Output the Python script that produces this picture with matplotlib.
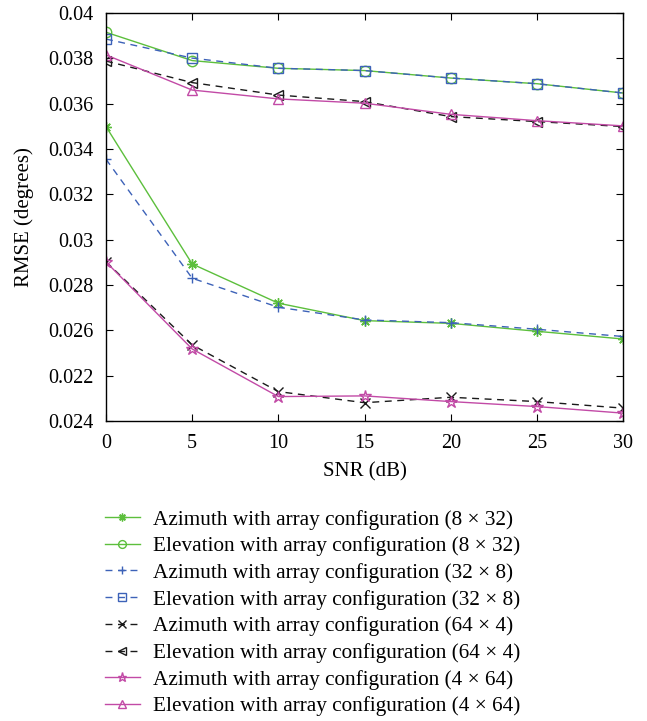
import matplotlib
matplotlib.use("Agg")
import matplotlib.pyplot as plt

# SNR grid and RMSE (degrees)
snr = [0, 5, 10, 15, 20, 25, 30]

az_8x32 = [0.03499, 0.02893, 0.02720, 0.02643, 0.02631, 0.02596, 0.02562]
el_8x32 = [0.03915, 0.03790, 0.03756, 0.03746, 0.03713, 0.03688, 0.03647]
az_32x8 = [0.03355, 0.02830, 0.02702, 0.02646, 0.02634, 0.02605, 0.02573]
el_32x8 = [0.03885, 0.03801, 0.03756, 0.03746, 0.03713, 0.03688, 0.03647]
az_64x4 = [0.02903, 0.02536, 0.02330, 0.02281, 0.02305, 0.02286, 0.02257]
el_64x4 = [0.03788, 0.03693, 0.03638, 0.03609, 0.03543, 0.03521, 0.03499]
az_4x64 = [0.02902, 0.02518, 0.02308, 0.02311, 0.02286, 0.02264, 0.02235]
el_4x64 = [0.03815, 0.03660, 0.03621, 0.03602, 0.03553, 0.03525, 0.03502]

# tick labels exactly as printed in the reference (second label reads 0.022)
ytick_vals = [0.022, 0.024, 0.026, 0.028, 0.030, 0.032, 0.034, 0.036, 0.038, 0.040]
ytick_labels = ["0.024", "0.022", "0.026", "0.028", "0.03", "0.032",
                "0.034", "0.036", "0.038", "0.04"]

labels = ["Azimuth with array configuration (8 \u00d7 32)",
          "Elevation with array configuration (8 \u00d7 32)",
          "Azimuth with array configuration (32 \u00d7 8)",
          "Elevation with array configuration (32 \u00d7 8)",
          "Azimuth with array configuration (64 \u00d7 4)",
          "Elevation with array configuration (64 \u00d7 4)",
          "Azimuth with array configuration (4 \u00d7 64)",
          "Elevation with array configuration (4 \u00d7 64)"]

GREEN, BLUE, BLACK, MAG = "#5cbf3c", "#3d62b8", "#1a1a1a", "#c24aa6"
DASH = (0, (5, 4))
ASTER = (8, 2, 0)   # eight-armed asterisk

styles = [
    (az_8x32, GREEN, "-", ASTER),
    (el_8x32, GREEN, "-", "o"),
    (az_32x8, BLUE, DASH, "+"),
    (el_32x8, BLUE, DASH, "s"),
    (az_64x4, BLACK, DASH, "x"),
    (el_64x4, BLACK, DASH, "<"),
    (az_4x64, MAG, "-", "*"),
    (el_4x64, MAG, "-", "^"),
]

plt.rcParams.update({"font.family": ["Liberation Serif", "DejaVu Serif"],
                     "font.size": 15})

fig = plt.figure(figsize=(6.47, 7.21), dpi=100)
ax = fig.add_axes([0.1638, 0.416, 0.7992, 0.566])

for (vals, col, ls, mk), lab in zip(styles, labels):
    ax.plot(snr, vals, color=col, ls=ls, lw=1.0, marker=mk,
            markersize=9 if mk == "*" else 7.5,
            markerfacecolor="none", markeredgecolor=col,
            markeredgewidth=1.0, label=lab)

ax.set_xlim(0, 30)
ax.set_ylim(0.022, 0.040)
ax.set_xticks(snr)
ax.set_yticks(ytick_vals)
ax.set_yticklabels(ytick_labels)
ax.tick_params(direction="in", top=True, right=True, length=5,
               labelsize=14.5, pad=9)
for s in ax.spines.values():
    s.set_linewidth(1.0)
ax.set_xlabel("SNR (dB)", fontsize=15, labelpad=7)
ax.set_ylabel("RMSE (degrees)", fontsize=15, labelpad=10)

h, l = ax.get_legend_handles_labels()
fig.legend(h, l, loc="upper left", bbox_to_anchor=(0.149, 0.305),
           frameon=False, fontsize=15.3, handlelength=1.65, handletextpad=0.6,
           labelspacing=0.32, borderaxespad=0, markerscale=0.75)

fig.savefig("out.png", dpi=100)
